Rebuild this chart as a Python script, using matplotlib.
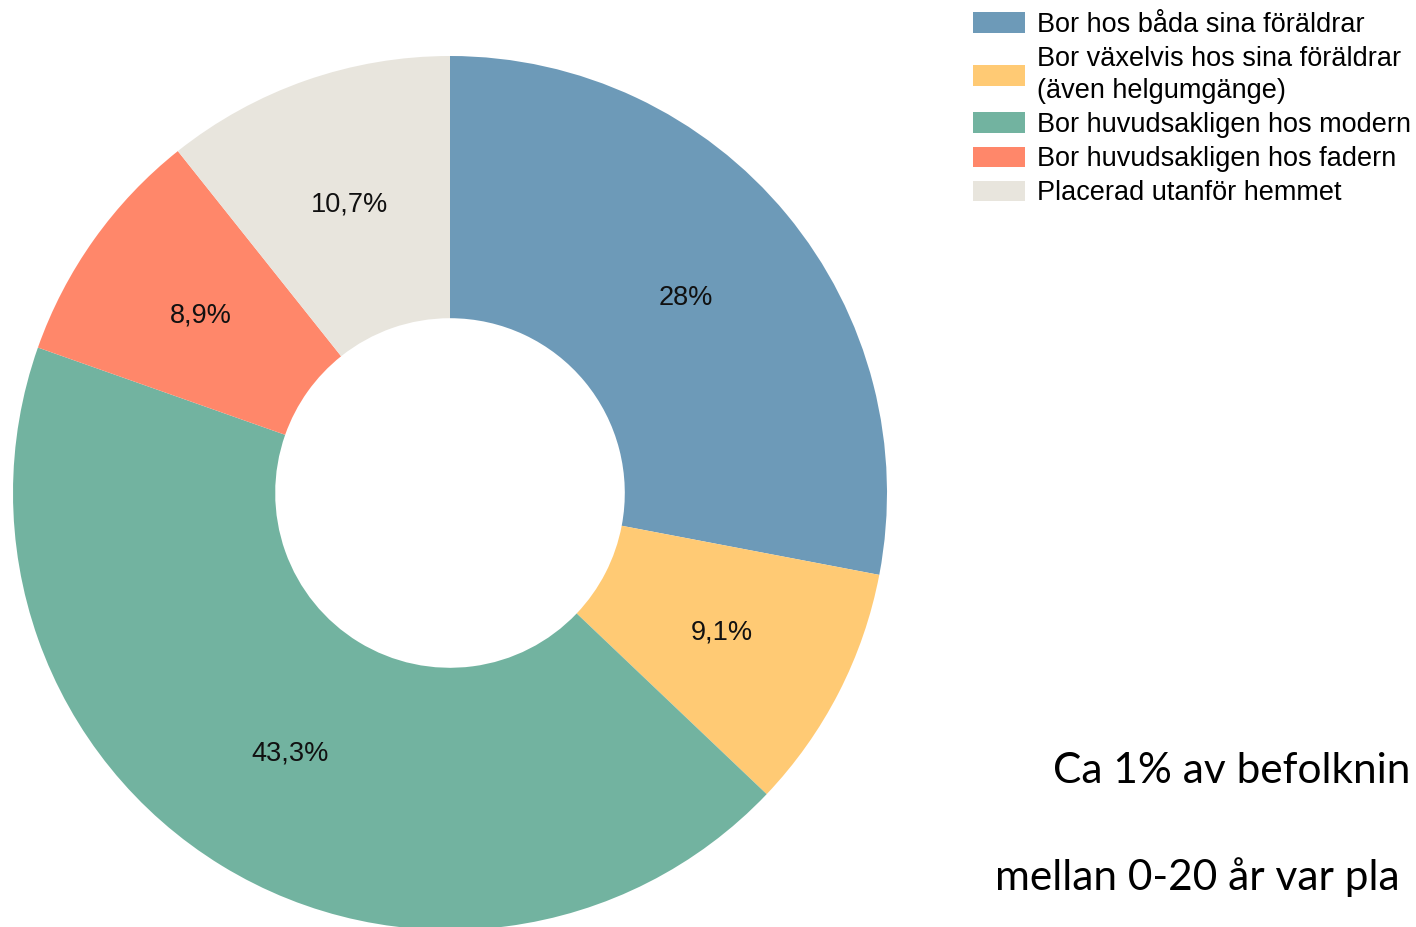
import matplotlib
matplotlib.use("Agg")
import matplotlib.pyplot as plt
import numpy as np

categories = [
    "Bor hos båda sina föräldrar",
    "Bor växelvis hos sina föräldrar\n(även helgumgänge)",
    "Bor huvudsakligen hos modern",
    "Bor huvudsakligen hos fadern",
    "Placerad utanför hemmet",
]
values = [28.0, 9.1, 43.3, 8.9, 10.7]
value_labels = ["28%", "9,1%", "43,3%", "8,9%", "10,7%"]
colors = ["#6D9AB8", "#FFCA74", "#72B3A0", "#FF876A", "#E8E5DD"]
note_lines = ["Ca 1% av befolknin", "mellan 0-20 år var pla"]

W, H = 1416, 927
fig = plt.figure(figsize=(W / 100, H / 100), dpi=100)
fig.patch.set_facecolor("white")

cx, cy, R = 450, 493, 437
ax = fig.add_axes([(cx - R) / W, (H - cy - R) / H, 2 * R / W, 2 * R / H])

wedges, _ = ax.pie(values, colors=colors, startangle=90, counterclock=False,
                   radius=1, wedgeprops=dict(width=0.6, linewidth=0))
ax.set_xlim(-1, 1)
ax.set_ylim(-1, 1)
ax.set_aspect("equal")
ax.axis("off")

cum = np.cumsum([0] + values)
total = sum(values)
for i, lab in enumerate(value_labels):
    mid = 90 - (cum[i] + values[i] / 2) / total * 360
    r = 0.70
    ax.text(r * np.cos(np.radians(mid)), r * np.sin(np.radians(mid)), lab,
            ha="center", va="center", fontsize=19.5, family="Liberation Sans",
            color="#111111")

leg = fig.legend(wedges, categories, loc="upper left",
                 bbox_to_anchor=(973 / W, 1 - 12 / H), frameon=False,
                 prop=dict(family="Liberation Sans", size=19.5),
                 handlelength=1.93, handleheight=0.8, handletextpad=0.45,
                 labelspacing=0.30, borderaxespad=0, borderpad=0.0)
for t in leg.get_texts():
    t.set_linespacing(1.3)

fig.text(1053 / W, 1 - 783 / H, note_lines[0], fontsize=30.5,
         family="Lato", ha="left", va="baseline", color="black")
fig.text(995 / W, 1 - 890 / H, note_lines[1], fontsize=30.5,
         family="Lato", ha="left", va="baseline", color="black")

fig.savefig("out.png", dpi=100, facecolor="white")
